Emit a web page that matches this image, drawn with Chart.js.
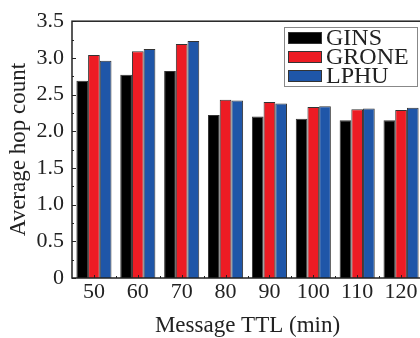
<!DOCTYPE html>
<html>
<head>
<meta charset="utf-8">
<script src="https://cdn.jsdelivr.net/npm/chart.js@4"></script>
<style>
    html, body { margin: 0; padding: 0; background: #fff; overflow: hidden; }
    #wrap { width: 426px; height: 338px; }
</style>
</head>
<body>
<div id="wrap"><canvas id="hopChart"></canvas></div>
<script>
// data
const ttlLabels = ['50', '60', '70', '80', '90', '100', '110', '120'];
const ginsValues = [2.69, 2.77, 2.82, 2.22, 2.20, 2.17, 2.15, 2.15];
const groneValues = [3.04, 3.09, 3.19, 2.43, 2.40, 2.33, 2.30, 2.29];
const lphuValues = [2.96, 3.12, 3.23, 2.42, 2.38, 2.34, 2.31, 2.32];
const seriesNames = ['GINS', 'GRONE', 'LPHU'];
const seriesColors = ['#000000', '#ed1c24', '#1f56a8'];

const serif = '"Liberation Serif", "Times New Roman", serif';
const ink = '#222';

// frame + inward ticks, like the original plot
const framePlugin = {
    id: 'frame',
    afterDraw(chart) {
        const ctx = chart.ctx;
        const area = chart.chartArea;
        const x = chart.scales.x;
        const y = chart.scales.y;
        ctx.save();
        ctx.strokeStyle = ink;
        ctx.lineWidth = 1.5;
        ctx.strokeRect(area.left, area.top, area.right - area.left, area.bottom - area.top);
        ctx.lineWidth = 1;
        for (let v = 0; v <= 3.5001; v += 0.25) {
            const py = Math.round(y.getPixelForValue(v)) + 0.5;
            const len = Math.abs(v * 2 - Math.round(v * 2)) < 0.01 ? 4 : 2;
            ctx.beginPath();
            ctx.moveTo(area.left, py);
            ctx.lineTo(area.left + len, py);
            ctx.stroke();
        }
        for (let i = 0; i < ttlLabels.length; i++) {
            const px = Math.round(x.getPixelForValue(i)) + 0.5;
            ctx.beginPath();
            ctx.moveTo(px, area.bottom);
            ctx.lineTo(px, area.bottom - 3);
            ctx.stroke();
            const bx = Math.round(x.getPixelForValue(i + 0.5)) + 0.5;
            ctx.beginPath();
            ctx.moveTo(bx, area.bottom);
            ctx.lineTo(bx, area.bottom - 2);
            ctx.stroke();
        }
        ctx.restore();
    }
};

// boxed legend in the upper right
const boxLegend = {
    id: 'boxLegend',
    afterDraw(chart) {
        const ctx = chart.ctx;
        const left = 284, top = 27, w = 133, h = 59;
        ctx.save();
        ctx.fillStyle = '#fff';
        ctx.fillRect(left, top, w, h);
        ctx.strokeStyle = '#888';
        ctx.lineWidth = 1;
        ctx.strokeRect(left + 0.5, top + 0.5, w, h);
        ctx.font = '24px ' + serif;
        ctx.textBaseline = 'middle';
        chart.data.datasets.forEach((ds, i) => {
            const cy = top + 11 + i * 19;
            ctx.fillStyle = ds.backgroundColor;
            ctx.fillRect(288, cy - 6, 34, 12);
            ctx.strokeStyle = '#333';
            ctx.strokeRect(288.5, cy - 5.5, 33, 11);
            ctx.fillStyle = ink;
            ctx.fillText(ds.label, 326, cy + 1);
        });
        ctx.restore();
    }
};

const seriesData = [ginsValues, groneValues, lphuValues];

new Chart(document.getElementById('hopChart'), {
    type: 'bar',
    data: {
        labels: ttlLabels,
        datasets: seriesNames.map((name, i) => ({
            label: name,
            data: seriesData[i],
            backgroundColor: seriesColors[i],
            borderColor: '#333',
            borderWidth: 1,
            categoryPercentage: 0.8,
            barPercentage: 1.0
        }))
    },
    options: {
        responsive: true,
        maintainAspectRatio: false,
        animation: false,
        layout: { padding: { top: 18, right: 3, left: 0, bottom: 0 } },
        plugins: {
            legend: { display: false },
            tooltip: { enabled: false }
        },
        scales: {
            x: {
                grid: { display: false, drawTicks: false },
                border: { display: false },
                ticks: { color: ink, font: { family: serif, size: 22 }, padding: 1, maxRotation: 0 },
                title: { display: true, text: 'Message TTL (min)', color: ink, font: { family: serif, size: 23 }, padding: { top: 0, bottom: -2 } },
                afterFit(scale) { scale.height = 60; }
            },
            y: {
                min: 0,
                max: 3.5,
                grid: { display: false, drawTicks: false },
                border: { display: false },
                ticks: {
                    stepSize: 0.5,
                    color: ink,
                    font: { family: serif, size: 22 },
                    padding: 8,
                    callback: v => v === 0 ? '0' : v.toFixed(1)
                },
                title: { display: true, text: 'Average hop count', color: ink, font: { family: serif, size: 23 }, padding: { top: 5, bottom: 0 } },
                afterFit(scale) { scale.width = 72; }
            }
        }
    },
    plugins: [framePlugin, boxLegend]
});
</script>
</body>
</html>
